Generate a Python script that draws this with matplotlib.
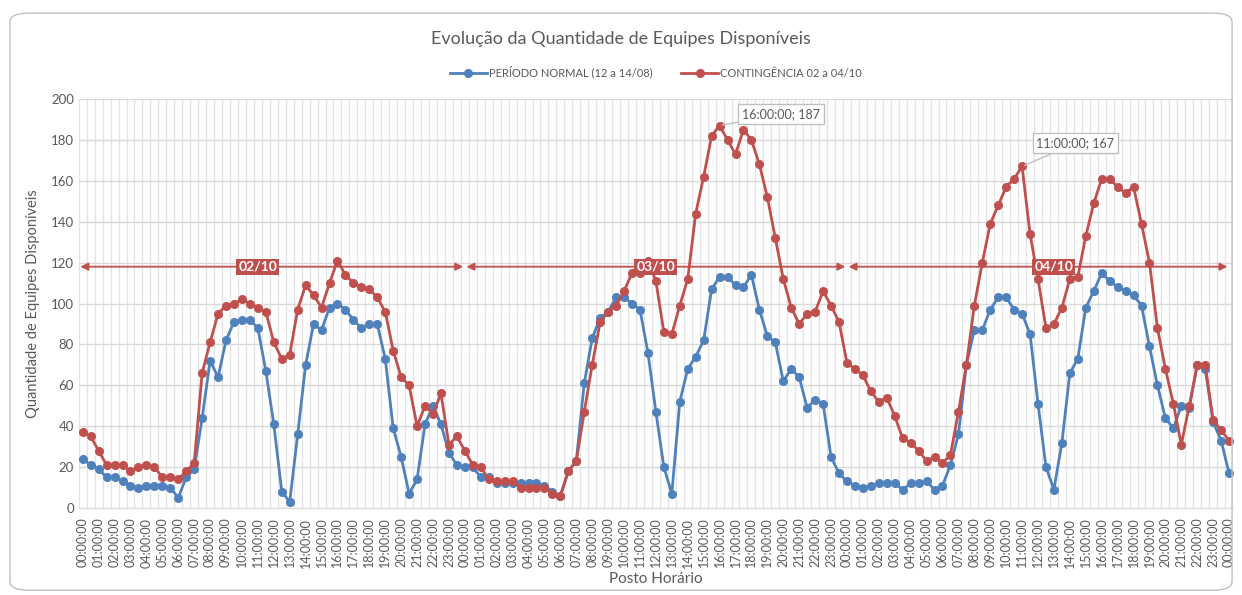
import matplotlib.pyplot as plt
from matplotlib.patches import FancyBboxPatch

# half-hour slots over 3 days (02/10 -> 04/10), last point is the closing 00:00
normal = [24, 21, 19, 15, 15, 13, 11, 10, 11, 11, 11, 10,
          5, 15, 19, 44, 72, 64, 82, 91, 92, 92, 88, 67,
          41, 8, 3, 36, 70, 90, 87, 98, 100, 97, 92, 88,
          90, 90, 73, 39, 25, 7, 14, 41, 50, 41, 27, 21,
          20, 20, 15, 15, 12, 12, 12, 12, 12, 12, 11, 8,
          6, 18, 23, 61, 83, 93, 96, 103, 103, 100, 97, 76,
          47, 20, 7, 52, 68, 74, 82, 107, 113, 113, 109, 108,
          114, 97, 84, 81, 62, 68, 64, 49, 53, 51, 25, 17,
          13, 11, 10, 11, 12, 12, 12, 9, 12, 12, 13, 9,
          11, 21, 36, 70, 87, 87, 97, 103, 103, 97, 95, 85,
          51, 20, 9, 32, 66, 73, 98, 106, 115, 111, 108, 106,
          104, 99, 79, 60, 44, 39, 50, 49, 70, 68, 42, 33,
          17]
conting = [37, 35, 28, 21, 21, 21, 18, 20, 21, 20, 15, 15,
           14, 18, 22, 66, 81, 95, 99, 100, 102, 100, 98, 96,
           81, 73, 75, 97, 109, 104, 98, 110, 121, 114, 110, 108,
           107, 103, 96, 77, 64, 60, 40, 50, 46, 56, 31, 35,
           28, 21, 20, 14, 13, 13, 13, 10, 10, 10, 10, 7,
           6, 18, 23, 47, 70, 91, 96, 99, 106, 115, 115, 121,
           111, 86, 85, 99, 112, 144, 162, 182, 187, 180, 173, 185,
           180, 168, 152, 132, 112, 98, 90, 95, 96, 106, 99, 91,
           71, 68, 65, 57, 52, 54, 45, 34, 32, 28, 23, 25,
           22, 26, 47, 70, 99, 120, 139, 148, 157, 161, 167, 134,
           112, 88, 90, 98, 112, 113, 133, 149, 161, 161, 157, 154,
           157, 139, 120, 88, 68, 51, 31, 50, 70, 70, 43, 38,
           33]
# hour of each half-hour slot
slot_hour = [h for _ in range(3) for h in range(24) for _ in range(2)] + [0]
days = ["02/10", "03/10", "04/10"]
day_label_pos = [22, 72, 122]
day_y = 118
peaks = [80, 118]  # indices with data callouts
peak_offsets = [(7.7, 5.7), (6.7, 11.5)]

blue = '#4F81BD'
red = '#C0504D'
gray = '#595959'
plt.rcParams['font.family'] = ['Lato', 'DejaVu Sans']

fig = plt.figure(figsize=(12.42, 5.95), dpi=100)
fig.patches.append(FancyBboxPatch((0.008, 0.008), 0.984, 0.97, boxstyle='round,pad=0,rounding_size=0.015',
                                  transform=fig.transFigure, fc='none', ec='#BFBFBF', lw=1))
ax = fig.add_axes([0.0634, 0.1462, 0.9294, 0.6874])
x = list(range(len(normal)))

ax.plot(x, normal, marker='o', ms=5.5, lw=2, color=blue, label='PERÍODO NORMAL (12 a 14/08)')
ax.plot(x, conting, marker='o', ms=5.5, lw=2, color=red, label='CONTINGÊNCIA 02 a 04/10')

ax.set_xlim(-0.5, len(x) - 0.5)
ax.set_ylim(0, 200)
ax.set_yticks(range(0, 201, 20))
ax.set_xticks(x[::2])
ax.set_xticklabels([f"{h:02d}:00:00" for h in slot_hour[::2]], rotation=90, fontsize=9, color=gray)
ax.tick_params(axis='y', labelsize=9.5, colors=gray, length=0)
ax.tick_params(axis='x', length=0, pad=7)
ax.set_xticks([i - 0.5 for i in x] + [len(x) - 0.5], minor=True)
ax.grid(axis='x', which='minor', color='#E3E3E3', lw=0.9)
ax.grid(axis='y', which='major', color='#D9D9D9', lw=1)
ax.tick_params(which='minor', length=0)
for s in ['top', 'right', 'left']:
    ax.spines[s].set_visible(False)
ax.spines['bottom'].set_color('#D9D9D9')
ax.set_axisbelow(True)

ax.set_xlabel('Posto Horário', fontsize=11, color=gray, labelpad=3)
ax.set_ylabel('Quantidade de Equipes Disponíveis', fontsize=10.5, color=gray, labelpad=8)
fig.suptitle('Evolução da Quantidade de Equipes Disponíveis', y=0.948, fontsize=13, color=gray)
ax.legend(loc='lower center', bbox_to_anchor=(0.5, 1.025), ncol=2, frameon=False, fontsize=8,
          labelcolor=gray, handlelength=3.3, columnspacing=2.6, handletextpad=0.2)

# day spans with double arrows
for k, d in enumerate(days):
    a0 = k * 48 - 0.3 if k == 0 else k * 48 + 0.2
    a1 = (k + 1) * 48 - 0.2
    ax.annotate('', xy=(a1, day_y), xytext=(a0, day_y), annotation_clip=False,
                arrowprops=dict(arrowstyle='<|-|>', color=red, lw=1.3, mutation_scale=11,
                                shrinkA=0, shrinkB=0))
    ax.text(day_label_pos[k], day_y, d, ha='center', va='center', color='white', fontsize=10,
            fontweight='bold', zorder=5,
            bbox=dict(boxstyle='square,pad=0.15', fc=red, ec='none'))

# callouts on peaks
for p, (dx, dy) in zip(peaks, peak_offsets):
    ax.annotate(f"{slot_hour[p]:02d}:00:00; {conting[p]}", xy=(p, conting[p]),
                xytext=(p + dx, conting[p] + dy), ha='center', va='center', fontsize=9, color=gray,
                bbox=dict(boxstyle='square,pad=0.3', fc='white', ec='#BFBFBF'),
                arrowprops=dict(arrowstyle='-', color='#BFBFBF', lw=1, shrinkA=0, shrinkB=2))

fig.savefig('out.png', dpi=100)
